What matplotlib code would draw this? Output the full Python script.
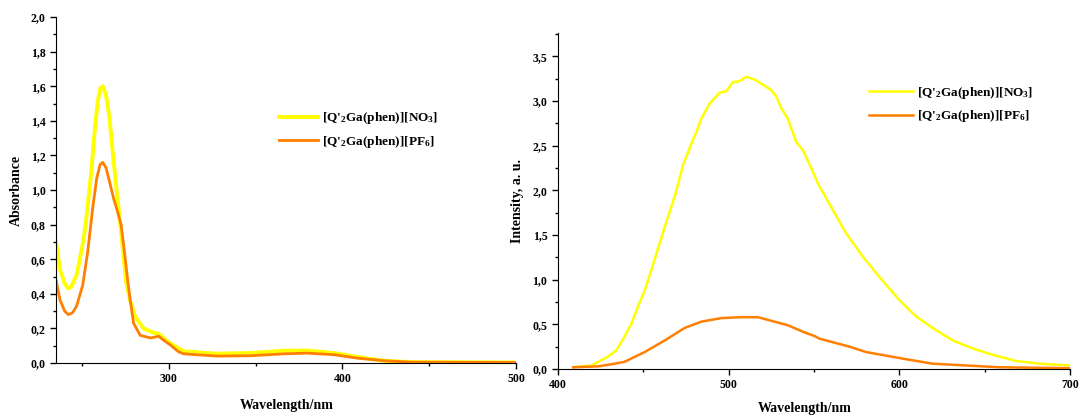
import numpy as np
import matplotlib
matplotlib.use('Agg')
import matplotlib.pyplot as plt
from matplotlib.ticker import MultipleLocator, FuncFormatter

plt.rcParams['font.family'] = ['Liberation Serif', 'DejaVu Serif']
plt.rcParams['font.weight'] = 'bold'
plt.rcParams['mathtext.fontset'] = 'custom'
plt.rcParams['mathtext.rm'] = 'Liberation Serif:bold'
plt.rcParams['mathtext.bf'] = 'Liberation Serif:bold'
plt.rcParams['mathtext.default'] = 'bf'

LBL_NO3 = "[Q'$_2$Ga(phen)][NO$_3$]"
LBL_PF6 = "[Q'$_2$Ga(phen)][PF$_6$]"
YELLOW = '#FFFF00'
ORANGE = '#FF7F00'

# absorption spectra
abs_wl_no3 = [235, 237.3, 240, 242.1, 243.7, 246.9, 248.5, 250.8, 252.3, 255.2, 257.1,
              259, 260.6, 261.9, 263.8, 265.8, 267.7, 269.6, 272.5, 275.4, 277.7,
              280.6, 285.4, 291.2, 294.1, 297.9, 300.8, 305.6, 308.5, 327.7, 347,
              366.2, 379.7, 395.2, 408.6, 424, 439.4, 500]
abs_no3 = [0.70, 0.54, 0.46, 0.43, 0.44, 0.51, 0.59, 0.71, 0.82, 1.09, 1.32,
           1.51, 1.59, 1.60, 1.55, 1.42, 1.22, 1.03, 0.76, 0.47, 0.36,
           0.27, 0.20, 0.175, 0.17, 0.135, 0.115, 0.085, 0.068, 0.054, 0.058,
           0.071, 0.072, 0.058, 0.035, 0.013, 0.005, 0.003]

abs_wl_pf6 = [235, 237.3, 240, 242.1, 244.5, 246.9, 250.4, 253.3, 256.2, 258.5, 260.4,
              261.9, 263.8, 265.8, 268.1, 270.6, 272.5, 274.4, 276.4, 277.8, 279.7,
              283.5, 289.3, 292, 294.1, 297.9, 300.8, 305.6, 308.5, 327.7, 347,
              366.2, 379.7, 395.2, 408.6, 424, 439.4, 500]
abs_pf6 = [0.48, 0.365, 0.30, 0.28, 0.29, 0.33, 0.45, 0.645, 0.90, 1.07, 1.147,
           1.16, 1.13, 1.05, 0.955, 0.87, 0.80, 0.645, 0.47, 0.36, 0.23,
           0.16, 0.145, 0.15, 0.155, 0.125, 0.105, 0.065, 0.053, 0.04, 0.042,
           0.053, 0.057, 0.048, 0.028, 0.013, 0.005, 0.003]

# emission spectra
em_wl_no3 = [409, 419.7, 423.6, 429.4, 434.3, 439, 443.1, 447, 450.9, 454.8, 462.6,
             469, 473.3, 478.2, 481.1, 484, 488.9, 494.7, 498.7, 502.5, 506.4, 510.3,
             515.2, 521, 525, 527.9, 530.8, 534.7, 539.6, 543.5, 549.3, 552.2, 561,
             568.8, 578.5, 588.3, 600, 609.7, 619.4, 631.2, 642.9, 654.6, 668.2,
             681.9, 700]
em_no3 = [0.02, 0.04, 0.08, 0.14, 0.21, 0.36, 0.51, 0.70, 0.88, 1.11, 1.59,
          1.965, 2.28, 2.52, 2.65, 2.80, 2.97, 3.09, 3.11, 3.21, 3.22, 3.27,
          3.24, 3.17, 3.12, 3.05, 2.92, 2.80, 2.54, 2.45, 2.21, 2.08, 1.78,
          1.52, 1.26, 1.03, 0.77, 0.59, 0.46, 0.32, 0.23, 0.16, 0.09,
          0.06, 0.04]

em_wl_pf6 = [409, 423.6, 433.3, 439, 450.9, 462.6, 474.3, 484, 495.7, 507.4, 517.2,
             526.9, 534.7, 544.4, 550.3, 553.2, 561, 570.8, 580.5, 592.2, 603.9, 619.4,
             638.9, 658.5, 700]
em_pf6 = [0.02, 0.03, 0.06, 0.08, 0.19, 0.32, 0.46, 0.53, 0.57, 0.58, 0.58,
          0.53, 0.49, 0.41, 0.37, 0.34, 0.30, 0.25, 0.19, 0.15, 0.11, 0.06,
          0.04, 0.02, 0.01]

comma = FuncFormatter(lambda v, p: f"{v:.1f}".replace('.', ','))

fig = plt.figure(figsize=(10.81, 4.17), dpi=100)
ax1 = fig.add_axes([0.0518, 0.1295, 0.4255, 0.8295])
ax2 = fig.add_axes([0.516, 0.115, 0.474, 0.806])

for ax in (ax1, ax2):
    ax.spines['top'].set_visible(False)
    ax.spines['right'].set_visible(False)
    ax.tick_params(which='major', direction='out', length=4, width=1, labelsize=8.5)
    ax.tick_params(which='minor', direction='out', length=2.5, width=1)
    ax.yaxis.set_major_formatter(comma)

ax1.plot(abs_wl_no3, abs_no3, color=YELLOW, lw=2.8, label=LBL_NO3, solid_joinstyle='round')
ax1.plot(abs_wl_pf6, abs_pf6, color=ORANGE, lw=2.0, label=LBL_PF6, solid_joinstyle='round')
ax1.set_xlim(235, 500)
ax1.set_ylim(0, 2.0)
ax1.xaxis.set_major_locator(MultipleLocator(100))
ax1.xaxis.set_minor_locator(MultipleLocator(50))
ax1.yaxis.set_major_locator(MultipleLocator(0.2))
ax1.yaxis.set_minor_locator(MultipleLocator(0.1))
ax1.set_xlabel('Wavelength/nm', fontsize=10, fontweight='bold')
ax1.set_ylabel('Absorbance', fontsize=10, fontweight='bold')
ax1.xaxis.set_label_coords(0.502, -0.104)
ax1.yaxis.set_label_coords(-0.072, 0.5)
ax1.legend(loc='upper left', bbox_to_anchor=(0.47, 0.75), frameon=False, fontsize=9.5,
           handlelength=3, handletextpad=0.3, labelspacing=0.6, borderpad=0)

ax2.plot(em_wl_no3, em_no3, color=YELLOW, lw=1.8, label=LBL_NO3, solid_joinstyle='round')
ax2.plot(em_wl_pf6, em_pf6, color=ORANGE, lw=1.8, label=LBL_PF6, solid_joinstyle='round')
ax2.set_xlim(400, 700)
ax2.set_ylim(0, 3.76)
ax2.xaxis.set_major_locator(MultipleLocator(100))
ax2.xaxis.set_minor_locator(MultipleLocator(50))
ax2.yaxis.set_major_locator(MultipleLocator(0.5))
ax2.yaxis.set_minor_locator(MultipleLocator(0.25))
ax2.set_xlabel('Wavelength/nm', fontsize=10, fontweight='bold')
ax2.set_ylabel('Intensity, a. u.', fontsize=10, fontweight='bold')
ax2.xaxis.set_label_coords(0.482, -0.098)
ax2.yaxis.set_label_coords(-0.066, 0.5)
ax2.legend(loc='upper left', bbox_to_anchor=(0.595, 0.866), frameon=False, fontsize=9.5,
           handlelength=3.3, handletextpad=0.3, labelspacing=0.6, borderpad=0)

for ax in (ax1, ax2):
    for lab in ax.get_xticklabels() + ax.get_yticklabels():
        lab.set_fontweight('bold')

fig.savefig('out.png', dpi=100)
